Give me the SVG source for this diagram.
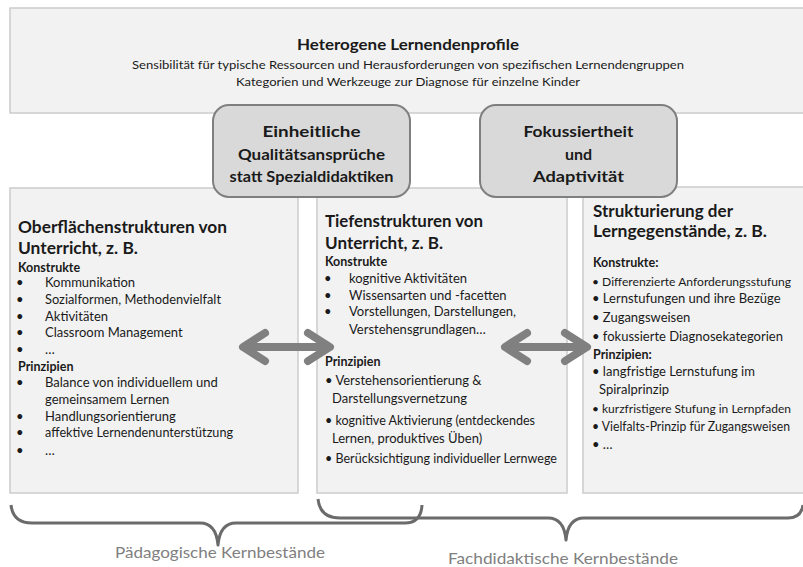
<svg xmlns="http://www.w3.org/2000/svg" width="803" height="567" viewBox="0 0 803 567">
<style>
.box{fill:#f2f2f2;stroke:#cccccc;stroke-width:1.5}
.rbox{fill:#d9d9d9;stroke:#7f7f7f;stroke-width:2}
text{font-family:Lato,"Liberation Sans",sans-serif;fill:#1a1a1a}
.t{font-size:11.5px}
.h{font-size:16px;font-weight:bold}
.rb{font-size:16px;font-weight:bold;text-anchor:middle}
.ct{font-size:17.5px;font-weight:bold}
.sh{font-size:12.5px;font-weight:bold}
.b{font-size:13px}
.bs{font-size:12.3px}
.arr{fill:none;stroke:#808080;stroke-width:8;stroke-linecap:round;stroke-linejoin:round}
.brace{fill:none;stroke:#6b6b6b;stroke-width:3;stroke-linejoin:round}
.lab{font-size:15px;fill:#808080;text-anchor:middle}
</style>
<g id="top">
<rect class="box" x="10" y="8" width="800" height="105"/>
<text class="h" x="408" y="50" text-anchor="middle" textLength="222" lengthAdjust="spacingAndGlyphs">Heterogene Lernendenprofile</text>
<text class="t" x="408" y="69" text-anchor="middle" textLength="552" lengthAdjust="spacingAndGlyphs">Sensibilität für typische Ressourcen und Herausforderungen von spezifischen Lernendengruppen</text>
<text class="t" x="408" y="86" text-anchor="middle" textLength="344" lengthAdjust="spacingAndGlyphs">Kategorien und Werkzeuge zur Diagnose für einzelne Kinder</text>
</g>
<g id="left">
<rect class="box" x="10" y="188" width="288" height="305"/>
<text class="ct" x="18" y="233" textLength="209" lengthAdjust="spacingAndGlyphs">Oberflächenstrukturen von</text>
<text class="ct" x="18" y="254" textLength="120" lengthAdjust="spacingAndGlyphs">Unterricht, z. B.</text>
<text class="sh" x="18" y="272">Konstrukte</text>
<text class="b" x="16" y="287">•</text><text class="b" x="45" y="287">Kommunikation</text>
<text class="b" x="16" y="304">•</text><text class="b" x="45" y="304" textLength="176" lengthAdjust="spacingAndGlyphs">Sozialformen, Methodenvielfalt</text>
<text class="b" x="16" y="321">•</text><text class="b" x="45" y="321">Aktivitäten</text>
<text class="b" x="16" y="337">•</text><text class="b" x="45" y="337">Classroom Management</text>
<text class="b" x="16" y="354">•</text><text class="b" x="45" y="354">…</text>
<text class="sh" x="18" y="371">Prinzipien</text>
<text class="b" x="16" y="387">•</text><text class="b" x="45" y="387">Balance von individuellem und</text>
<text class="b" x="45" y="404">gemeinsamem Lernen</text>
<text class="b" x="16" y="421">•</text><text class="b" x="45" y="421">Handlungsorientierung</text>
<text class="b" x="16" y="437">•</text><text class="b" x="45" y="437" textLength="188" lengthAdjust="spacingAndGlyphs">affektive Lernendenunterstützung</text>
<text class="b" x="16" y="455">•</text><text class="b" x="45" y="455">…</text>
</g>
<g id="middle">
<rect class="box" x="317" y="188" width="250" height="305"/>
<text class="ct" x="325" y="227" textLength="158" lengthAdjust="spacingAndGlyphs">Tiefenstrukturen von</text>
<text class="ct" x="325" y="249" textLength="118" lengthAdjust="spacingAndGlyphs">Unterricht, z. B.</text>
<text class="sh" x="325" y="266">Konstrukte</text>
<text class="b" x="324" y="283">•</text><text class="b" x="349" y="283">kognitive Aktivitäten</text>
<text class="b" x="324" y="300">•</text><text class="b" x="349" y="300">Wissensarten und -facetten</text>
<text class="b" x="324" y="316">•</text><text class="b" x="349" y="316">Vorstellungen, Darstellungen,</text>
<text class="b" x="349" y="334">Verstehensgrundlagen…</text>
<text class="sh" x="325" y="366">Prinzipien</text>
<text class="b" x="325" y="385">• Verstehensorientierung &amp;</text>
<text class="b" x="332" y="403">Darstellungsvernetzung</text>
<text class="b" x="325" y="425" textLength="210" lengthAdjust="spacingAndGlyphs">• kognitive Aktivierung (entdeckendes</text>
<text class="b" x="332" y="443">Lernen, produktives Üben)</text>
<text class="b" x="325" y="463" textLength="232" lengthAdjust="spacingAndGlyphs">• Berücksichtigung individueller Lernwege</text>
</g>
<g id="right">
<rect class="box" x="583" y="187" width="230" height="306"/>
<text class="ct" x="593" y="217" textLength="140" lengthAdjust="spacingAndGlyphs">Strukturierung der</text>
<text class="ct" x="593" y="237" textLength="174" lengthAdjust="spacingAndGlyphs">Lerngegenstände, z.  B.</text>
<text class="sh" x="593" y="267">Konstrukte:</text>
<text class="bs" x="592" y="286" textLength="199" lengthAdjust="spacingAndGlyphs">• Differenzierte Anforderungsstufung</text>
<text class="b" x="592" y="303">• Lernstufungen und ihre Bezüge</text>
<text class="b" x="592" y="322">• Zugangsweisen</text>
<text class="b" x="592" y="341">• fokussierte Diagnosekategorien</text>
<text class="sh" x="593" y="359">Prinzipien:</text>
<text class="b" x="592" y="376">• langfristige Lernstufung im</text>
<text class="b" x="599" y="394">Spiralprinzip</text>
<text class="bs" x="592" y="413" textLength="199" lengthAdjust="spacingAndGlyphs">• kurzfristigere Stufung in Lernpfaden</text>
<text class="b" x="592" y="431" textLength="198" lengthAdjust="spacingAndGlyphs">• Vielfalts-Prinzip für Zugangsweisen</text>
<text class="b" x="592" y="449">• …</text>
</g>
<g id="einheitliche">
<rect class="rbox" x="213" y="105" width="197" height="92" rx="16"/>
<text class="rb" x="311.5" y="137" textLength="98" lengthAdjust="spacingAndGlyphs">Einheitliche</text>
<text class="rb" x="311.5" y="160" textLength="147" lengthAdjust="spacingAndGlyphs">Qualitätsansprüche</text>
<text class="rb" x="311.5" y="182" textLength="164" lengthAdjust="spacingAndGlyphs">statt Spezialdidaktiken</text>
</g>
<g id="fokussiertheit">
<rect class="rbox" x="480" y="105" width="197" height="92" rx="16"/>
<text class="rb" x="578.5" y="137" textLength="110" lengthAdjust="spacingAndGlyphs">Fokussiertheit</text>
<text class="rb" x="578.5" y="160">und</text>
<text class="rb" x="578.5" y="182" textLength="91" lengthAdjust="spacingAndGlyphs">Adaptivität</text>
</g>
<g id="connectors">
<path class="arr" d="M244 347 H329 M265 333 L243 347 L265 361 M308 333 L330 347 L308 361"/>
<path class="arr" d="M506 347 H586 M527 333 L505 347 L527 361 M565 333 L587 347 L565 361"/>
<path class="brace" d="M11 505 Q13 523 32 523 H200 Q216 523 218 545 Q220 523 236 523 H405 Q421 523 422 505"/>
<path class="brace" d="M318 499 Q320 518 340 518 H548 Q564 518 566 540 Q568 518 584 518 H788 Q801 518 803 505"/>
</g>
<g id="labels">
<text class="lab" x="220" y="558" textLength="210" lengthAdjust="spacingAndGlyphs">Pädagogische Kernbestände</text>
<text class="lab" x="563" y="564" textLength="230" lengthAdjust="spacingAndGlyphs">Fachdidaktische Kernbestände</text>
</g>
</svg>
